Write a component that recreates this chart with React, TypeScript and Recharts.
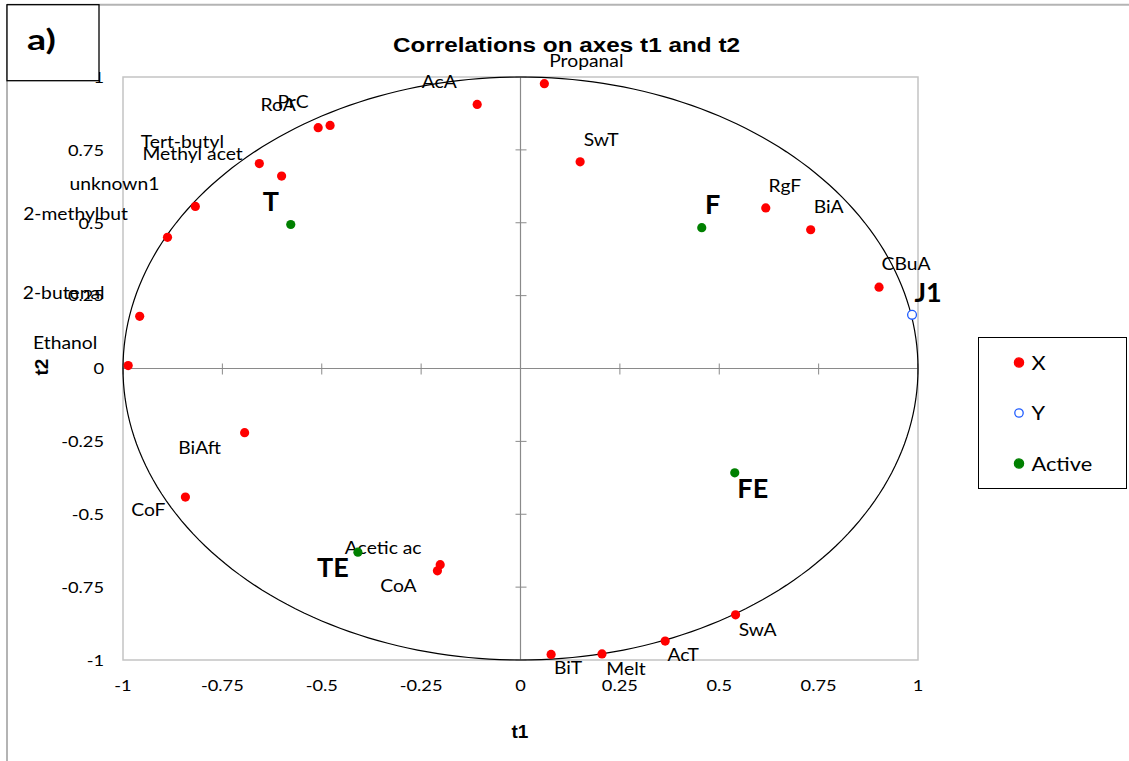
import React from 'react';
import {
  ScatterChart,
  Scatter,
  XAxis,
  YAxis,
  ReferenceLine,
  ReferenceArea,
  Legend,
} from 'recharts';

// ---------------- data ----------------
const xNames = [
  'Propanal', 'AcA', 'PrC', 'RoA', 'Tert-butyl', 'Methyl acet', 'unknown1',
  '2-methylbut', '2-butenal', 'Ethanol', 'BiAft', 'CoF', 'Acetic ac', 'CoA',
  'BiT', 'Melt', 'AcT', 'SwA', 'SwT', 'RgF', 'BiA', 'CBuA',
];
const xT1 = [
  0.060, -0.109, -0.479, -0.509, -0.657, -0.601, -0.818,
  -0.888, -0.958, -0.987, -0.694, -0.843, -0.202, -0.209,
  0.077, 0.205, 0.364, 0.541, 0.150, 0.617, 0.730, 0.902,
];
const xT2 = [
  0.977, 0.906, 0.834, 0.826, 0.703, 0.660, 0.556,
  0.450, 0.179, 0.010, -0.220, -0.441, -0.673, -0.694,
  -0.981, -0.979, -0.935, -0.845, 0.709, 0.551, 0.476, 0.279,
];

const yNames = ['J1'];
const yT1 = [0.985];
const yT2 = [0.184];

const activeNames = ['T', 'F', 'FE', 'TE'];
const activeT1 = [-0.578, 0.456, 0.539, -0.409];
const activeT2 = [0.494, 0.483, -0.358, -0.630];

const axisTicks = [-1, -0.75, -0.5, -0.25, 0, 0.25, 0.5, 0.75, 1];
const tickLabels = ['-1', '-0.75', '-0.5', '-0.25', '0', '0.25', '0.5', '0.75', '1'];
const axisMarks = [-1, -0.75, -0.5, -0.25, 0.25, 0.5, 0.75, 1];

const legendNames = ['X', 'Y', 'Active'];

// label placement (pixel offsets of label centre from its point)
const labelOffsets: Record<string, [number, number]> = {
  Propanal: [42, -23], AcA: [-38, -22], PrC: [-37, -23], RoA: [-40, -23],
  'Tert-butyl': [-77, -22], 'Methyl acet': [-89, -22], unknown1: [-81, -22],
  '2-methylbut': [-92, -23], '2-butenal': [-76, -23], Ethanol: [-63, -23],
  BiAft: [-45, 15], CoF: [-37, 13], 'Acetic ac': [-57, -17], CoA: [-39, 15],
  BiT: [17, 14], Melt: [24, 15], AcT: [18, 14], SwA: [22, 15],
  SwT: [21, -22], RgF: [19, -22], BiA: [18, -23], CBuA: [27, -23],
  J1: [16, -23], T: [-20, -23], F: [11, -23], FE: [18, 15], TE: [-25, 15],
};

// ---------------- build tables ----------------
const xData = xNames.map((n, i) => ({ name: n, t1: xT1[i], t2: xT2[i] }));
const yData = yNames.map((n, i) => ({ name: n, t1: yT1[i], t2: yT2[i] }));
const activeData = activeNames.map((n, i) => ({ name: n, t1: activeT1[i], t2: activeT2[i] }));

// correlation circle (radius 1)
const unitCircle = Array.from({ length: 241 }, (_, i) => {
  const a = (2 * Math.PI * i) / 240;
  return { t1: Math.cos(a), t2: Math.sin(a) };
});
const hMarks = axisMarks.map((v) => ({ t1: v, t2: 0 }));
const vMarks = axisMarks.map((v) => ({ t1: 0, t2: v }));

// ---------------- styles ----------------
const W = 1129;
const H = 761;
const LABEL_FONT = 'Lato, "Noto Sans", sans-serif';
const RED = '#ff0000';
const GREEN = '#008000';
const BLUE = '#1f5cff';
const AXIS_GREY = '#8a8a8a';

type STextProps = {
  x: number;
  y: number;
  sx?: number;
  anchor?: 'start' | 'middle' | 'end';
  size: number;
  bold?: boolean;
  family?: string;
  children: React.ReactNode;
};
const SText = ({ x, y, sx = 1, anchor = 'middle', size, bold, family = LABEL_FONT, children }: STextProps) => (
  <text
    transform={`translate(${x} ${y}) scale(${sx} 1)`}
    x={0}
    y={0}
    dy="0.36em"
    textAnchor={anchor}
    fontFamily={family}
    fontWeight={bold ? 700 : 400}
    fontSize={size}
    fill="#000"
  >
    {children}
  </text>
);

const labelText = (cx: number, cy: number, name: string, bold: boolean) => {
  const off = labelOffsets[name] || [0, -20];
  return (
    <SText x={cx + off[0]} y={cy + off[1]} size={bold ? 27 : 16.5} sx={bold ? 1 : 1.17} bold={bold}>
      {name}
    </SText>
  );
};

const XShape = (p: any) => (
  <g>
    <circle cx={p.cx} cy={p.cy} r={4.6} fill={RED} />
    {labelText(p.cx, p.cy, p.payload.name, false)}
  </g>
);
const YShape = (p: any) => (
  <g>
    <circle cx={p.cx} cy={p.cy} r={4.4} fill="#fff" stroke={BLUE} strokeWidth={1.3} />
    {labelText(p.cx, p.cy, p.payload.name, true)}
  </g>
);
const ActiveShape = (p: any) => (
  <g>
    <circle cx={p.cx} cy={p.cy} r={4.6} fill={GREEN} />
    {labelText(p.cx, p.cy, p.payload.name, true)}
  </g>
);
const NoShape = () => <g />;
const HMark = (p: any) => (
  <line x1={p.cx} x2={p.cx} y1={p.cy - 5} y2={p.cy + 6} stroke={AXIS_GREY} strokeWidth={1} />
);
const VMark = (p: any) => (
  <line x1={p.cx - 5} x2={p.cx + 6} y1={p.cy} y2={p.cy} stroke={AXIS_GREY} strokeWidth={1} />
);

const fmt = (v: number) => {
  const i = axisTicks.indexOf(v);
  return i >= 0 ? tickLabels[i] : String(v);
};

const XTick = (p: any) => (
  <SText x={p.x} y={p.y + 25.5} size={16} sx={1.14}>
    {fmt(p.payload.value)}
  </SText>
);
const YTick = (p: any) => (
  <SText x={p.x - 19} y={p.y} size={16} sx={1.14} anchor="end">
    {fmt(p.payload.value)}
  </SText>
);

const legendStyle: Record<string, { fill: string; stroke: string }> = {
  X: { fill: RED, stroke: RED },
  Y: { fill: '#fff', stroke: BLUE },
  Active: { fill: GREEN, stroke: GREEN },
};

const LegendBox = (props: any) => {
  const present: string[] = (props.payload || []).map((e: any) => e.value);
  const items = legendNames.filter((n) => present.includes(n));
  return (
    <div
      style={{
        width: 149,
        height: 152,
        boxSizing: 'border-box',
        border: '1.3px solid #000',
        background: '#fff',
      }}
    >
      <svg width={147} height={150} style={{ display: 'block' }}>
        {items.map((name, i) => {
          const s = legendStyle[name];
          const cy = 24.5 + i * 50.5;
          return (
            <g key={name}>
              <circle cx={40} cy={cy} r={name === 'Y' ? 4.2 : 4.6} fill={s.fill} stroke={s.stroke} strokeWidth={1.3} />
              <SText x={52.5} y={cy} size={20} sx={1.09} anchor="start">
                {name}
              </SText>
            </g>
          );
        })}
      </svg>
    </div>
  );
};

const ARIAL = '"Liberation Sans", Arial, sans-serif';

export default function App() {
  return (
    <div style={{ position: 'absolute', left: 0, top: 0, width: W, height: H, background: '#fff' }}>
      <ScatterChart
        width={W}
        height={H}
        margin={{ top: 77, right: 211, bottom: 41, left: 63 }}
      >
        <XAxis
          type="number"
          dataKey="t1"
          domain={[-1, 1]}
          ticks={axisTicks}
          interval={0}
          axisLine={false}
          tickLine={false}
          tickSize={0}
          tickMargin={0}
          height={60}
          tick={<XTick />}
        />
        <YAxis
          type="number"
          dataKey="t2"
          domain={[-1, 1]}
          ticks={axisTicks}
          interval={0}
          axisLine={false}
          tickLine={false}
          tickSize={0}
          tickMargin={0}
          width={60}
          tick={<YTick />}
        />
        <ReferenceArea x1={-1} x2={1} y1={-1} y2={1} fill="none" stroke="#c4c4c4" strokeWidth={1.5} />
        <ReferenceLine x={0} stroke={AXIS_GREY} strokeWidth={1.2} />
        <ReferenceLine y={0} stroke={AXIS_GREY} strokeWidth={1.2} />
        <Scatter data={hMarks} shape={HMark} legendType="none" isAnimationActive={false} />
        <Scatter data={vMarks} shape={VMark} legendType="none" isAnimationActive={false} />
        <Scatter
          data={unitCircle}
          shape={NoShape}
          line={{ stroke: '#000', strokeWidth: 1.2 }}
          lineType="joint"
          legendType="none"
          isAnimationActive={false}
        />
        <Scatter name="X" data={xData} fill={RED} shape={XShape} isAnimationActive={false} />
        <Scatter name="Y" data={yData} fill={BLUE} shape={YShape} isAnimationActive={false} />
        <Scatter name="Active" data={activeData} fill={GREEN} shape={ActiveShape} isAnimationActive={false} />
        <Legend
          layout="horizontal"
          verticalAlign="middle"
          align="center"
          wrapperStyle={{ position: 'absolute', left: 978, top: 337, width: 149, height: 152 }}
          content={<LegendBox />}
        />
      </ScatterChart>
      <svg
        width={W}
        height={H}
        style={{ position: 'absolute', left: 0, top: 0, pointerEvents: 'none' }}
      >
        <line x1={7} y1={4.7} x2={W} y2={4.7} stroke="#b4b4b4" strokeWidth={2} />
        <line x1={7} y1={4.7} x2={7} y2={H} stroke="#b4b4b4" strokeWidth={2} />
        <rect x={7} y={4.7} width={92} height={76} fill="#fff" stroke="#000" strokeWidth={1.3} />
        <SText x={41.5} y={40} size={29} sx={1.3} bold>
          a)
        </SText>
        <text
          x={566.5}
          y={52}
          textAnchor="middle"
          fontFamily={ARIAL}
          fontWeight={700}
          fontSize={19.5}
          textLength={347}
          lengthAdjust="spacingAndGlyphs"
          fill="#000"
        >
          Correlations on axes t1 and t2
        </text>
        <SText x={520} y={731} size={19} bold family={ARIAL}>
          t1
        </SText>
        <text
          x={41.5}
          y={367}
          dy="0.36em"
          textAnchor="middle"
          transform="rotate(-90 41.5 367)"
          fontFamily={ARIAL}
          fontWeight={700}
          fontSize={19}
          fill="#000"
        >
          t2
        </text>
      </svg>
    </div>
  );
}
